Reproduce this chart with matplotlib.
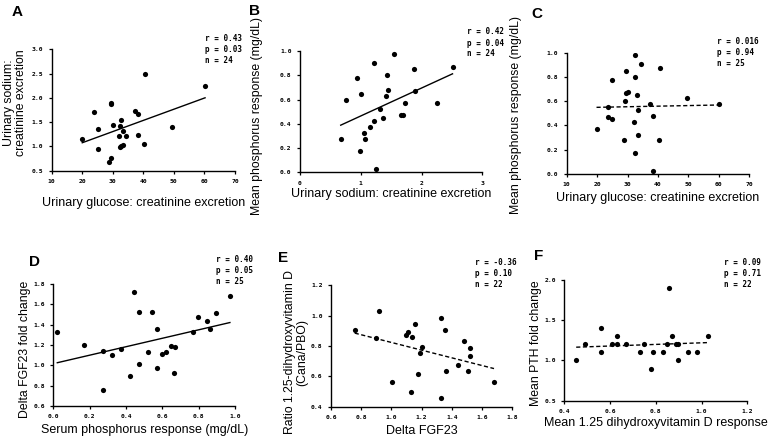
import numpy as np
import matplotlib.pyplot as plt

# panel A: urinary glucose vs urinary sodium
a_x = [20.0, 23.8, 25.2, 25.1, 28.9, 29.3, 29.4, 29.5, 30.2, 32.2, 32.6, 32.0,
       33.3, 34.3, 32.3, 32.8, 33.3, 37.3, 38.1, 38.1, 40.1, 40.6, 49.5, 60.2]
a_y = [1.15, 1.70, 1.36, 0.94, 0.67, 0.76, 1.90, 1.88, 1.45, 1.42, 1.55, 1.22,
       1.31, 1.21, 0.98, 1.00, 1.03, 1.73, 1.67, 1.24, 1.05, 2.50, 1.40, 2.25]

# panel B: urinary sodium vs phosphorus response
b_x = [0.67, 0.76, 0.94, 1.01, 0.99, 1.05, 1.07, 1.16, 1.22, 1.22, 1.25, 1.31,
       1.36, 1.41, 1.43, 1.45, 1.55, 1.66, 1.70, 1.73, 1.87, 1.90, 2.25, 2.51]
b_y = [0.275, 0.60, 0.774, 0.647, 0.176, 0.325, 0.275, 0.375, 0.90, 0.424, 0.028, 0.523,
       0.449, 0.625, 0.80, 0.675, 0.975, 0.474, 0.474, 0.573, 0.851, 0.667, 0.573, 0.868]

# panel C: urinary glucose vs phosphorus response
c_x = [19.8, 23.7, 23.7, 25.0, 24.8, 28.8, 29.3, 29.4, 29.4, 30.3, 32.3, 32.1, 32.3,
       32.6, 33.1, 33.3, 33.4, 34.3, 37.3, 38.2, 38.2, 40.2, 40.6, 49.6, 60.1]
c_y = [0.374, 0.551, 0.474, 0.452, 0.776, 0.277, 0.601, 0.850, 0.668, 0.676, 0.803, 0.427, 0.172,
       0.978, 0.648, 0.524, 0.324, 0.903, 0.576, 0.476, 0.022, 0.277, 0.870, 0.626, 0.576]

# panel D: phosphorus response vs FGF23 fold change
d_x = [0.022, 0.171, 0.272, 0.272, 0.321, 0.372, 0.422, 0.446, 0.473, 0.472, 0.521, 0.545, 0.571,
       0.571, 0.596, 0.620, 0.646, 0.662, 0.672, 0.771, 0.796, 0.846, 0.862, 0.895, 0.972]
d_y = [1.33, 1.20, 1.14, 0.76, 1.10, 1.16, 0.90, 1.72, 1.52, 1.01, 1.13, 1.52, 1.36,
       0.97, 1.11, 1.13, 1.19, 0.92, 1.18, 1.33, 1.48, 1.44, 1.36, 1.51, 1.68]

# panel E: delta FGF23 vs ratio 1,25 vitamin D
e_x = [0.757, 0.896, 0.916, 1.006, 1.097, 1.108, 1.136, 1.128, 1.156, 1.176, 1.187,
       1.200, 1.328, 1.328, 1.357, 1.359, 1.439, 1.479, 1.510, 1.518, 1.518, 1.679]
e_y = [0.903, 0.855, 1.033, 0.565, 0.873, 0.892, 0.862, 0.494, 0.943, 0.613, 0.752,
       0.793, 0.982, 0.455, 0.903, 0.633, 0.675, 0.833, 0.633, 0.785, 0.734, 0.565]

# panel F: vitamin D response vs PTH fold change
f_x = [0.452, 0.492, 0.560, 0.560, 0.610, 0.631, 0.632, 0.671, 0.731, 0.750, 0.789,
       0.780, 0.830, 0.849, 0.859, 0.869, 0.888, 0.899, 0.899, 0.939, 0.979, 1.028]
f_y = [1.00, 1.20, 1.40, 1.10, 1.20, 1.30, 1.20, 1.20, 1.10, 1.20, 1.10,
       0.90, 1.10, 1.20, 1.90, 1.30, 1.20, 1.20, 1.00, 1.10, 1.10, 1.30]

stats = [("0.43", "0.03", "24"), ("0.42", "0.04", "24"), ("0.016", "0.94", "25"),
         ("0.40", "0.05", "25"), ("-0.36", "0.10", "22"), ("0.09", "0.71", "22")]
letters = ["A", "B", "C", "D", "E", "F"]
xlabels = ["Urinary glucose: creatinine excretion",
           "Urinary sodium: creatinine excretion",
           "Urinary glucose: creatinine excretion",
           "Serum phosphorus response (mg/dL)",
           "Delta FGF23",
           "Mean 1.25 dihydroxyvitamin D response"]
ylabels = ["Urinary sodium:\ncreatinine excretion",
           "Mean phosphorus response (mg/dL)",
           "Mean phosphorus response (mg/dL)",
           "Delta FGF23 fold change",
           "Ratio 1.25-dihydroxyvitamin D\n(Cana/PBO)",
           "Mean PTH fold change"]
xticks = [[10, 20, 30, 40, 50, 60, 70], [0, 1, 2, 3], [10, 20, 30, 40, 50, 60, 70],
          [0.0, 0.2, 0.4, 0.6, 0.8, 1.0], [0.6, 0.8, 1.0, 1.2, 1.4, 1.6, 1.8],
          [0.4, 0.6, 0.8, 1.0, 1.2]]
yticks = [[0.5, 1.0, 1.5, 2.0, 2.5, 3.0], [0.0, 0.2, 0.4, 0.6, 0.8, 1.0],
          [0.0, 0.2, 0.4, 0.6, 0.8, 1.0], [0.6, 0.8, 1.0, 1.2, 1.4, 1.6, 1.8],
          [0.4, 0.6, 0.8, 1.0, 1.2], [0.5, 1.0, 1.5, 2.0]]
xfmt = ["%d", "%d", "%d", "%.1f", "%.1f", "%.1f"]
dashed = [False, False, True, False, True, True]

W, H = 774, 446


def fx(x):
    return x / W


def fy(y):
    return 1 - y / H


# axes boxes in pixels: left, right, top, bottom
boxes = [(51.7, 235, 49.3, 170.7), (300, 482.3, 51, 172.3), (566.7, 749.3, 52.7, 174),
         (53.3, 235, 284, 406), (331, 512.3, 285.3, 406.7), (564.3, 747.3, 280, 400.7)]
letter_pos = [(12, 5), (249, 4), (531, 7), (29, 255), (278, 251), (534, 249)]
stat_pos = [(205, 38.5), (467, 32), (717, 41.7), (216, 259.3), (475, 262.3), (724, 262.7)]
ylab_pos = [(15, 103), (257, 116), (516, 115), (25, 349), (296, 352), (536, 343)]
xlab_pos = [203, 194, 198, 430, 431, 423]

data = [(a_x, a_y), (b_x, b_y), (c_x, c_y), (d_x, d_y), (e_x, e_y), (f_x, f_y)]

plt.rcParams['font.family'] = ['Liberation Sans', 'DejaVu Sans']
fig = plt.figure(figsize=(7.74, 4.46), dpi=100)

mono = dict(family='DejaVu Sans Mono', weight='bold')

for i in range(6):
    l, r, t, b = boxes[i]
    ax = fig.add_axes([fx(l), fy(b), (r - l) / W, (b - t) / H])
    x, y = np.array(data[i][0]), np.array(data[i][1])
    ax.scatter(x, y, s=14, color='black', zorder=3, linewidths=0)
    k, c0 = np.polyfit(x, y, 1)
    xs = np.array([x.min(), x.max()])
    ls = (0, (3, 1.8)) if dashed[i] else '-'
    ax.plot(xs, k * xs + c0, color='black', lw=1.0, linestyle=ls)

    ax.set_xlim(xticks[i][0], xticks[i][-1])
    ax.set_ylim(yticks[i][0], yticks[i][-1])
    ax.set_xticks(xticks[i])
    ax.set_yticks(yticks[i])
    ax.set_xticklabels([xfmt[i] % v for v in xticks[i]], fontdict=mono, fontsize=4.6)
    ax.set_yticklabels(["%.1f" % v for v in yticks[i]], fontdict=mono, fontsize=4.6)
    for s in ['top', 'right']:
        ax.spines[s].set_visible(False)
    for s in ['left', 'bottom']:
        ax.spines[s].set_linewidth(1.0)
    ax.tick_params(length=2.5, width=0.9, pad=3.5)

    # labels
    fig.text(fx(ylab_pos[i][0]), fy(ylab_pos[i][1]), ylabels[i], rotation=90,
             ha='center', va='center', fontsize=8.8, linespacing=1.05)
    fig.text(fx((l + r) / 2), fy(xlab_pos[i]), xlabels[i], ha='center', va='center',
             fontsize=9.0)
    fig.text(fx(letter_pos[i][0]), fy(letter_pos[i][1]), letters[i], ha='left', va='top',
             fontsize=11, weight='bold')
    rr, pp, nn = stats[i]
    sx, sy = stat_pos[i]
    for j, txt in enumerate(["r = " + rr, "p = " + pp, "n = " + nn]):
        fig.text(fx(sx), fy(sy + j * 11), txt, ha='left', va='center', fontsize=5.5, **mono)

fig.savefig('out.png', dpi=100)
